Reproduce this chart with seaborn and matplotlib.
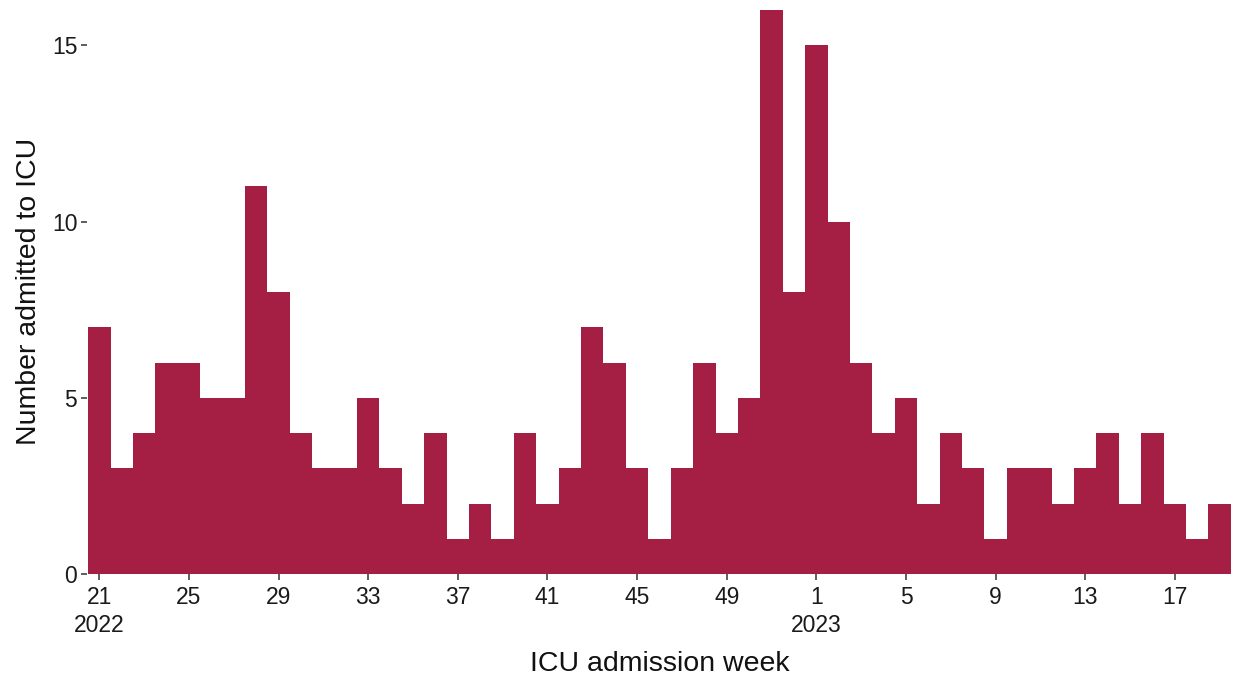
import matplotlib
matplotlib.use("Agg")
import matplotlib.pyplot as plt
import seaborn as sns
import pandas as pd

# ---- data ----
weeks_2022 = list(range(21, 53))
weeks_2023 = list(range(1, 20))
counts = [7, 3, 4, 6, 6, 5, 5, 11, 8, 4, 3, 3, 5, 3, 2, 4, 1, 2, 1, 4,
          2, 3, 7, 6, 3, 1, 3, 6, 4, 5, 16, 8,
          15, 10, 6, 4, 5, 2, 4, 3, 1, 3, 3, 2, 3, 4, 2, 4, 2, 1, 2]
years = [2022] * len(weeks_2022) + [2023] * len(weeks_2023)
weeks = weeks_2022 + weeks_2023
tick_weeks = [21, 25, 29, 33, 37, 41, 45, 49, 1, 5, 9, 13, 17]
year_marks = {(2022, 21): "2022", (2023, 1): "2023"}

df = pd.DataFrame({"year": years, "week": weeks, "n": counts})
df["key"] = [f"{y}-W{w:02d}" for y, w in zip(df.year, df.week)]
order = list(df["key"])

sns.set_theme(style="white")
plt.rcParams["font.family"] = ["Liberation Sans", "DejaVu Sans"]

fig = plt.figure(figsize=(12.35, 6.79), dpi=100)
ax = fig.add_axes([87 / 1235, (679 - 574) / 679, (1232 - 87) / 1235, (574 - 9) / 679])

sns.barplot(data=df, x="key", y="n", order=order, color="#A41F43",
            width=1.0, saturation=1, edgecolor="none", linewidth=0, ax=ax)

ax.set_xlim(-0.55, len(order) - 0.45)
ax.set_ylim(0, 16.03)

tick_pos, tick_lab = [], []
for i, (y, w) in enumerate(zip(years, weeks)):
    if w in tick_weeks:
        tick_pos.append(i)
        lab = str(w)
        if (y, w) in year_marks:
            lab += "\n" + year_marks[(y, w)]
        tick_lab.append(lab)
ax.set_xticks(tick_pos)
ax.set_xticklabels(tick_lab, fontsize=16.5, color="#1a1a1a", linespacing=1.27)
ax.set_yticks([0, 5, 10, 15])
ax.set_yticklabels(["0", "5", "10", "15"], fontsize=16.5, color="#1a1a1a")

for s in ax.spines.values():
    s.set_visible(False)
ax.tick_params(axis="both", which="major", length=4, width=1.1, color="#333333",
               bottom=True, left=True)
ax.tick_params(axis="x", pad=5)
ax.tick_params(axis="y", pad=3)
ax.grid(False)

ax.set_xlabel("ICU admission week", fontsize=20.5, color="#111111", labelpad=10)
ax.set_ylabel("Number admitted to ICU", fontsize=20.5, color="#111111", labelpad=7)

fig.savefig("out.png", dpi=100)
